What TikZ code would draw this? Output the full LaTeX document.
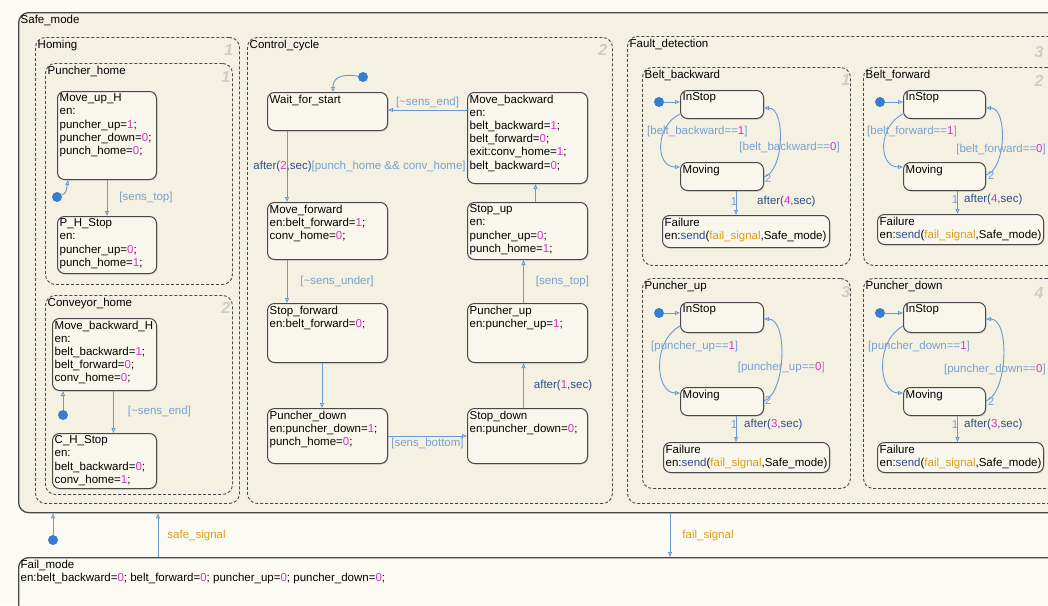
\documentclass[tikz,border=0pt]{standalone}
\usepackage{fontspec}
\setmainfont{Liberation Sans}
\usetikzlibrary{arrows.meta,calc,shadows}

\definecolor{bgc}{RGB}{252,251,243}
\definecolor{supc}{RGB}{244,241,226}
\definecolor{leafc}{RGB}{249,247,237}
\definecolor{edgec}{RGB}{72,72,72}
\definecolor{trc}{RGB}{105,152,210}
\definecolor{labc}{RGB}{120,160,210}
\definecolor{kwc}{RGB}{45,75,140}
\definecolor{nmc}{RGB}{215,50,200}
\definecolor{sgc}{RGB}{215,160,20}
\definecolor{dotc}{RGB}{55,125,205}
\definecolor{numc}{RGB}{205,205,200}

\newcommand{\nm}[1]{\textcolor{nmc}{#1}}
\newcommand{\kw}[1]{\textcolor{kwc}{#1}}
\newcommand{\sg}[1]{\textcolor{sgc}{#1}}

\begin{document}
\begin{tikzpicture}[x=1pt, y=-1pt,
  font=\fontsize{11.5}{13.2}\selectfont,
  leaf/.style={draw=edgec, line width=1pt, rounded corners=7pt, fill=leafc, anchor=north west, inner sep=0pt,
    drop shadow={opacity=0.25, shadow xshift=1pt, shadow yshift=-1pt}},
  group/.style={draw=edgec, line width=0.9pt, dash pattern=on 3pt off 2pt, rounded corners=10pt, fill=supc, anchor=north west, inner sep=0pt},
  topbox/.style={draw=edgec, line width=1.3pt, rounded corners=10pt, anchor=north west, inner sep=0pt},
  txt/.style={anchor=north west, align=left, inner sep=2.5pt},
  num/.style={text=numc, font=\fontsize{16}{16}\selectfont\bfseries\itshape},
  inidot/.style={circle, fill=dotc, minimum size=10pt, inner sep=0pt},
  tr/.style={draw=trc, line width=0.9pt, -{Triangle[open, length=5pt, width=4pt]}},
  lab/.style={text=labc, inner sep=1pt}]

\useasboundingbox (0,0) rectangle (1048,605);
\clip (0,0) rectangle (1048,605);
\fill[bgc] (0,0) rectangle (1048,605);

% outer states
\node[topbox, fill=supc, minimum width=1057pt, minimum height=500pt] (sm) at (18,12) {};
\node[txt] (sm-t) at (sm.north west) {Safe\_mode};
\node[topbox, fill=bgc, minimum width=1057pt, minimum height=60pt] (fm) at (18,557) {};
\node[txt] (fm-t) at (fm.north west) {Fail\_mode\\en:belt\_backward=\nm{0}; belt\_forward=\nm{0}; puncher\_up=\nm{0}; puncher\_down=\nm{0};};

% Homing
\node[group, minimum width=204pt, minimum height=466pt] (hom) at (35,37) {};
\node[txt] (hom-t) at (hom.north west) {Homing};
\node[num] (hom-n) at ($(hom.north east)+(-11,13)$) {1};
\node[group, minimum width=187pt, minimum height=221pt] (ph) at (45,63) {};
\node[txt] (ph-t) at (ph.north west) {Puncher\_home};
\node[num] (ph-n) at ($(ph.north east)+(-7,14)$) {1};
\node[leaf, minimum width=99pt, minimum height=88pt] (muh) at (57,91) {};
\node[txt] (muh-t) at (muh.north west) {Move\_up\_H\\en:\\puncher\_up=\nm{1};\\puncher\_down=\nm{0};\\punch\_home=\nm{0};};
\node[leaf, minimum width=99pt, minimum height=57pt] (phs) at (57,216) {};
\node[txt] (phs-t) at (phs.north west) {P\_H\_Stop\\en:\\puncher\_up=\nm{0};\\punch\_home=\nm{1};};
\node[group, minimum width=187pt, minimum height=199pt] (ch) at (45,295) {};
\node[txt] (ch-t) at (ch.north west) {Conveyor\_home};
\node[num] (ch-n) at ($(ch.north east)+(-7,13)$) {2};
\node[leaf, minimum width=104pt, minimum height=72pt] (mbh) at (52,318) {};
\node[txt] (mbh-t) at (mbh.north west) {Move\_backward\_H\\en:\\belt\_backward=\nm{1};\\belt\_forward=\nm{0};\\conv\_home=\nm{0};};
\node[leaf, minimum width=104pt, minimum height=55pt] (chs) at (52,433) {};
\node[txt] (chs-t) at (chs.north west) {C\_H\_Stop\\en:\\belt\_backward=\nm{0};\\conv\_home=\nm{1};};

\node[inidot] (d1) at (57,197) {};
\node[inidot] (d2) at (63,415) {};
\draw[tr] (d1) .. controls (66,193) .. ($(muh.south west)+(11,0)$);
\draw[tr] (muh) -- node[lab, right=11pt] (l1) {[sens\_top]} (phs);
\draw[tr] (d2) -- (d2 |- mbh.south);
\draw[tr] ([xshift=9pt]mbh.south) -- node[lab, right=13pt] (l2) {[\textasciitilde sens\_end]} ([xshift=9pt]chs.north);

% Control_cycle
\node[group, minimum width=365pt, minimum height=466pt] (cc) at (247,37) {};
\node[txt] (cc-t) at (cc.north west) {Control\_cycle};
\node[num] (cc-n) at ($(cc.north east)+(-10,13)$) {2};
\node[leaf, minimum width=120pt, minimum height=38pt] (wfs) at (267,92) {};
\node[txt] (wfs-t) at (wfs.north west) {Wait\_for\_start};
\node[leaf, minimum width=120pt, minimum height=91pt] (mb) at (467,92) {};
\node[txt] (mb-t) at (mb.north west) {Move\_backward\\en:\\belt\_backward=\nm{1};\\belt\_forward=\nm{0};\\exit:conv\_home=\nm{1};\\belt\_backward=\nm{0};};
\node[leaf, minimum width=120pt, minimum height=57pt] (mf) at (267,202) {};
\node[txt] (mf-t) at (mf.north west) {Move\_forward\\en:belt\_forward=\nm{1};\\conv\_home=\nm{0};};
\node[leaf, minimum width=120pt, minimum height=57pt] (su) at (467,202) {};
\node[txt] (su-t) at (su.north west) {Stop\_up\\en:\\puncher\_up=\nm{0};\\punch\_home=\nm{1};};
\node[leaf, minimum width=120pt, minimum height=59pt] (sf) at (267,303) {};
\node[txt] (sf-t) at (sf.north west) {Stop\_forward\\en:belt\_forward=\nm{0};};
\node[leaf, minimum width=120pt, minimum height=59pt] (pu) at (467,303) {};
\node[txt] (pu-t) at (pu.north west) {Puncher\_up\\en:puncher\_up=\nm{1};};
\node[leaf, minimum width=120pt, minimum height=55pt] (pd) at (267,408) {};
\node[txt] (pd-t) at (pd.north west) {Puncher\_down\\en:puncher\_down=\nm{1};\\punch\_home=\nm{0};};
\node[leaf, minimum width=120pt, minimum height=55pt] (sd) at (467,408) {};
\node[txt] (sd-t) at (sd.north west) {Stop\_down\\en:puncher\_down=\nm{0};};

\node[inidot] (d3) at (363,77) {};
\draw[tr] (d3) .. controls (338,73) and (333,80) .. ($(wfs.north west)+(66,0)$);
\draw[tr] ($(mb.north west)+(0,18)$) -- node[lab, above=1pt] (l3) {[\textasciitilde sens\_end]} ($(wfs.north east)+(0,18)$);
\draw[tr] ($(wfs.south west)+(20,0)$) -- node[lab, anchor=west, xshift=-35pt] (l4) {\kw{after(}\nm{2}\kw{,sec)}[punch\_home \&\& conv\_home]} ($(mf.north west)+(20,0)$);
\draw[tr] ($(mf.south west)+(20,0)$) -- node[lab, right=12pt] (l5) {[\textasciitilde sens\_under]} ($(sf.north west)+(20,0)$);
\draw[tr] ($(sf.south west)+(55,0)$) -- ($(pd.north west)+(55,0)$);
\draw[tr] (pd) -- node[lab, below=1pt] (l6) {[sens\_bottom]} (sd);
\draw[tr] ($(sd.north)+(-4,0)$) -- node[lab, right=9pt] (l7) {\kw{after(}\nm{1}\kw{,sec)}} ($(pu.south)+(-4,0)$);
\draw[tr] ($(pu.north)+(-4,0)$) -- node[lab, right=11pt] (l8) {[sens\_top]} ($(su.south)+(-4,0)$);
\draw[tr] ($(su.north)+(8,0)$) -- ($(mb.south)+(8,0)$);

% Fault_detection
\node[group, minimum width=437pt, minimum height=467pt] (fd) at (627,36) {};
\node[txt] (fd-t) at (fd.north west) {Fault\_detection};
\node[num, anchor=east] (fd-n) at (1047,52) {3};

\node[group, minimum width=208pt, minimum height=198pt] (bb) at (642,67) {};
\node[txt] (bb-t) at (bb.north west) {Belt\_backward};
\node[num] (bb-n) at ($(bb.north east)+(-5,13)$) {1};
\node[leaf, minimum width=83pt, minimum height=28pt] (is1) at (680,90) {};
\node[txt] (is1-t) at (is1.north west) {InStop};
\node[leaf, minimum width=83pt, minimum height=28pt] (mv1) at (680,162) {};
\node[txt] (mv1-t) at (mv1.north west) {Moving};
\node[leaf, minimum width=167pt, minimum height=32pt] (fl1) at (662,215) {};
\node[txt] (fl1-t) at (fl1.north west) {Failure\\en:\kw{send}(\sg{fail\_signal},Safe\_mode)};
\node[inidot] (d5) at (659,102) {};
\draw[tr] (d5) -- (d5 -| is1.west);
\draw[tr] ($(is1.south west)+(0,-5)$) .. controls +(-25,12) and +(-25,0) .. ($(mv1.north west)+(0,5)$);
\draw[tr] ($(mv1.north east)+(0,15)$) .. controls +(20,-5) and +(22,0) .. ($(is1.north east)+(0,18)$);
\draw[tr] ($(mv1.south)+(14,0)$) -- ($(fl1.north -| mv1.south)+(14,0)$);
\node[lab, anchor=west] (g1a) at (646,132) {[belt\_backward==\nm{1}]};
\node[lab, anchor=east] (g1b) at (841,148) {[belt\_backward==\nm{0}]};
\node[lab] (g1c) at (768,178) {2};
\node[lab] (g1d) at (734,202) {1};
\node[lab, anchor=west] (g1e) at (756,202) {\kw{after(}\nm{4}\kw{,sec)}};

\node[group, minimum width=194pt, minimum height=198pt] (bf) at (863,67) {};
\node[txt] (bf-t) at (bf.north west) {Belt\_forward};
\node[num, anchor=east] (bf-n) at (1047,81) {2};
\node[leaf, minimum width=82pt, minimum height=28pt] (is2) at (903,90) {};
\node[txt] (is2-t) at (is2.north west) {InStop};
\node[leaf, minimum width=82pt, minimum height=28pt] (mv2) at (903,162) {};
\node[txt] (mv2-t) at (mv2.north west) {Moving};
\node[leaf, minimum width=166pt, minimum height=30pt] (fl2) at (877,214) {};
\node[txt] (fl2-t) at (fl2.north west) {Failure\\en:\kw{send}(\sg{fail\_signal},Safe\_mode)};
\node[inidot] (d6) at (880,102) {};
\draw[tr] (d6) -- (d6 -| is2.west);
\draw[tr] ($(is2.south west)+(0,-5)$) .. controls +(-25,12) and +(-25,0) .. ($(mv2.north west)+(0,5)$);
\draw[tr] ($(mv2.north east)+(0,13)$) .. controls +(20,-5) and +(22,0) .. ($(is2.north east)+(0,18)$);
\draw[tr] ($(mv2.south)+(13,0)$) -- ($(fl2.north -| mv2.south)+(13,0)$);
\node[lab, anchor=west] (g2a) at (866,132) {[belt\_forward==\nm{1}]};
\node[lab, anchor=east] (g2b) at (1047,150) {[belt\_forward==\nm{0}]};
\node[lab] (g2c) at (991,175) {2};
\node[lab] (g2d) at (955,200) {1};
\node[lab, anchor=west] (g2e) at (963,200) {\kw{after(}\nm{4}\kw{,sec)}};

\node[group, minimum width=208pt, minimum height=210pt] (pug) at (642,278) {};
\node[txt] (pug-t) at (pug.north west) {Puncher\_up};
\node[num] (pug-n) at ($(pug.north east)+(-5,14)$) {3};
\node[leaf, minimum width=83pt, minimum height=30pt] (is3) at (680,302) {};
\node[txt] (is3-t) at (is3.north west) {InStop};
\node[leaf, minimum width=83pt, minimum height=28pt] (mv3) at (680,387) {};
\node[txt] (mv3-t) at (mv3.north west) {Moving};
\node[leaf, minimum width=166pt, minimum height=30pt] (fl3) at (663,442) {};
\node[txt] (fl3-t) at (fl3.north west) {Failure\\en:\kw{send}(\sg{fail\_signal},Safe\_mode)};
\node[inidot] (d7) at (659,313) {};
\draw[tr] (d7) -- (d7 -| is3.west);
\draw[tr] ($(is3.south west)+(0,-7)$) .. controls +(-28,15) and +(-25,0) .. ($(mv3.north west)+(0,6)$);
\draw[tr] ($(mv3.north east)+(0,14)$) .. controls +(22,-8) and +(24,0) .. ($(is3.north east)+(0,17)$);
\draw[tr] ($(mv3.south)+(14,0)$) -- ($(fl3.north -| mv3.south)+(14,0)$);
\node[lab, anchor=west] (g3a) at (650,347) {[puncher\_up==\nm{1}]};
\node[lab, anchor=east] (g3b) at (826,368) {[puncher\_up==\nm{0}]};
\node[lab] (g3c) at (768,400) {2};
\node[lab] (g3d) at (734,425) {1};
\node[lab, anchor=west] (g3e) at (743,425) {\kw{after(}\nm{3}\kw{,sec)}};

\node[group, minimum width=194pt, minimum height=210pt] (pdg) at (863,278) {};
\node[txt] (pdg-t) at (pdg.north west) {Puncher\_down};
\node[num, anchor=east] (pdg-n) at (1047,293) {4};
\node[leaf, minimum width=82pt, minimum height=30pt] (is4) at (903,302) {};
\node[txt] (is4-t) at (is4.north west) {InStop};
\node[leaf, minimum width=82pt, minimum height=28pt] (mv4) at (903,387) {};
\node[txt] (mv4-t) at (mv4.north west) {Moving};
\node[leaf, minimum width=166pt, minimum height=30pt] (fl4) at (877,442) {};
\node[txt] (fl4-t) at (fl4.north west) {Failure\\en:\kw{send}(\sg{fail\_signal},Safe\_mode)};
\node[inidot] (d8) at (880,313) {};
\draw[tr] (d8) -- (d8 -| is4.west);
\draw[tr] ($(is4.south west)+(0,-7)$) .. controls +(-28,15) and +(-25,0) .. ($(mv4.north west)+(0,6)$);
\draw[tr] ($(mv4.north east)+(0,14)$) .. controls +(22,-8) and +(24,0) .. ($(is4.north east)+(0,17)$);
\draw[tr] ($(mv4.south)+(13,0)$) -- ($(fl4.north -| mv4.south)+(13,0)$);
\node[lab, anchor=west] (g4a) at (867,347) {[puncher\_down==\nm{1}]};
\node[lab, anchor=east] (g4b) at (1047,370) {[puncher\_down==\nm{0}]};
\node[lab] (g4c) at (991,401) {2};
\node[lab] (g4d) at (955,425) {1};
\node[lab, anchor=west] (g4e) at (963,425) {\kw{after(}\nm{3}\kw{,sec)}};

% between Safe_mode and Fail_mode
\node[inidot] (d4) at (53,540) {};
\draw[tr] (d4) -- (d4 |- sm.south);
\draw[tr] ($(fm.north west)+(140,0)$) -- node[lab, right=8pt, text=sgc] (l9) {safe\_signal} ($(sm.south west)+(140,0)$);
\draw[tr] ($(sm.south west)+(652,0)$) -- node[lab, right=11pt, text=sgc] (l10) {fail\_signal} ($(fm.north west)+(652,0)$);
\end{tikzpicture}
\end{document}
